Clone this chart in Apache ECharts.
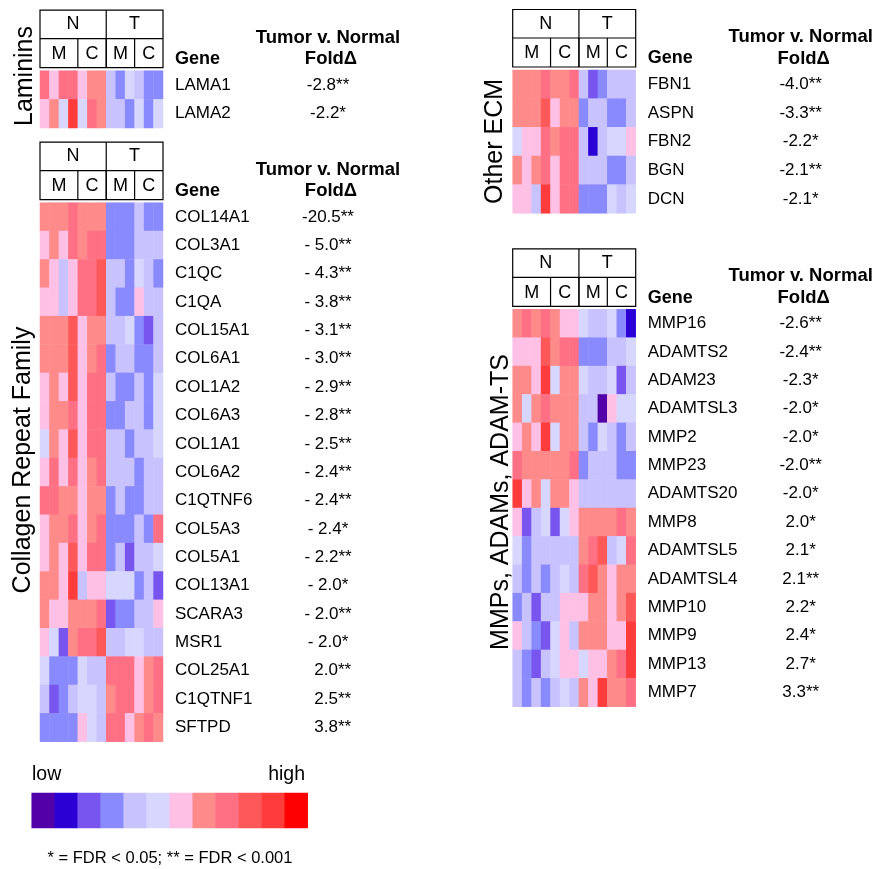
<!DOCTYPE html>
<html><head><meta charset="utf-8">
<script src="https://cdn.jsdelivr.net/npm/echarts@6/dist/echarts.min.js"></script>
<style>html,body{margin:0;padding:0;background:#fff}#c{width:876px;height:869px}</style>
</head><body><div id="c"></div>
<script>
// ---- colour scale (12 levels, low -> high) ----
const colorLevels = ['#5200A8','#2A00D4','#7755EE','#8A8AFF','#C8C2FF','#D6D6FF','#FFC0E6','#FF8A8A','#FF7085','#FF5858','#FF3C3C','#FF0000'];
const legendLevels = [0,1,2,3,4,5,6,7,8,9,10,11];

// ---- sample columns: N-M (4), N-C (3), T-M (3), T-C (3) ----
const columns = ['NM1','NM2','NM3','NM4','NC1','NC2','NC3','TM1','TM2','TM3','TC1','TC2','TC3'];
const topHeader = ['N','T'];
const topSpans = [7,6];
const subHeader = ['M','C','M','C'];
const subSpans = [4,3,3,3];

// ---- Laminins ----
const lamininGenes = ['LAMA1','LAMA2'];
const lamininFold = ['-2.8**','-2.2*'];
const lamininLevels = [
  [8,6,8,8,6,7,7,4,3,5,4,3,3],
  [6,7,5,10,5,8,7,4,4,3,5,3,5]
];

// ---- Collagen Repeat Family ----
const collagenGenes = ['COL14A1','COL3A1','C1QC','C1QA','COL15A1','COL6A1','COL1A2','COL6A3','COL1A1','COL6A2','C1QTNF6','COL5A3','COL5A1','COL13A1','SCARA3','MSR1','COL25A1','C1QTNF1','SFTPD'];
const collagenFold = ['-20.5**','- 5.0**','- 4.3**','- 3.8**','- 3.1**','- 3.0**','- 2.9**','- 2.8**','- 2.5**','- 2.4**','- 2.4**','- 2.4*','- 2.2**','- 2.0*','- 2.0**','- 2.0*','  2.0**','  2.5**','  3.8**'];
const collagenLevels = [
  [7,7,7,8,7,7,7,3,3,3,4,3,3],
  [6,7,6,8,7,8,8,3,3,3,4,4,4],
  [7,6,4,6,8,8,9,4,4,3,5,4,3],
  [6,6,4,6,8,8,9,4,3,3,6,4,4],
  [7,7,7,9,6,7,7,4,4,5,3,2,4],
  [7,7,7,9,6,7,8,3,4,4,3,3,4],
  [6,7,6,9,6,8,8,4,3,3,4,3,5],
  [6,7,7,8,6,8,8,3,3,4,4,3,5],
  [5,7,6,9,6,8,8,4,4,3,4,4,5],
  [6,8,6,8,6,7,8,4,4,4,3,4,4],
  [8,8,7,7,6,7,7,3,4,3,3,4,4],
  [6,7,7,8,6,7,8,3,3,3,4,3,8],
  [6,7,6,9,6,8,8,3,4,2,4,4,5],
  [7,7,6,10,4,6,6,5,5,5,3,4,2],
  [7,6,6,7,7,7,8,2,3,3,4,4,6],
  [6,5,2,7,8,8,9,4,4,5,5,4,4],
  [5,3,3,3,5,4,4,8,8,8,6,7,8],
  [4,2,3,4,5,5,4,7,8,8,6,7,8],
  [3,3,3,3,6,5,4,8,8,6,7,8,7]
];

// ---- Other ECM ----
const ecmGenes = ['FBN1','ASPN','FBN2','BGN','DCN'];
const ecmFold = ['-4.0**','-3.3**','-2.2*','-2.1**','-2.1*'];
const ecmLevels = [
  [7,7,7,8,7,7,8,4,2,3,4,4,4],
  [7,7,7,9,6,7,7,3,4,4,3,3,4],
  [5,6,6,8,7,8,8,4,1,4,5,5,6],
  [7,6,7,8,6,8,8,4,4,4,3,3,4],
  [6,6,4,10,6,8,8,3,3,3,5,4,5]
];

// ---- MMPs, ADAMs, ADAM-TS ----
const mmpGenes = ['MMP16','ADAMTS2','ADAM23','ADAMTSL3','MMP2','MMP23','ADAMTS20','MMP8','ADAMTSL5','ADAMTSL4','MMP10','MMP9','MMP13','MMP7'];
const mmpFold = ['-2.6**','-2.4**','-2.3*','-2.0*','-2.0*','-2.0**','-2.0*','2.0*','2.1*','2.1**','2.2*','2.4*','2.7*','3.3**'];
const mmpLevels = [
  [7,8,7,8,7,6,6,5,4,4,5,3,1],
  [6,6,6,9,7,8,8,3,3,3,4,4,5],
  [7,7,6,10,5,7,7,5,4,4,5,2,4],
  [7,5,7,8,7,7,7,4,4,0,6,5,5],
  [6,7,6,10,5,7,7,4,3,5,4,3,4],
  [8,7,7,7,7,7,8,3,4,4,4,3,3],
  [10,6,7,5,7,7,6,4,4,4,4,4,4],
  [6,2,4,5,2,5,6,7,7,7,7,8,7],
  [5,3,4,4,4,4,4,7,8,9,4,5,8],
  [4,3,4,3,4,5,4,8,9,7,6,7,7],
  [3,4,2,4,4,6,6,6,7,7,6,7,9],
  [6,4,3,2,5,6,4,7,7,7,6,6,10],
  [4,3,2,4,5,6,6,5,6,6,7,8,10],
  [4,3,4,3,4,5,4,7,6,10,7,7,8]
];

// ---------------- layout ----------------
const FONT = 'Liberation Sans';
const panels = [
  {name:'Laminins', genes:lamininGenes, fold:lamininFold, levels:lamininLevels, left:40, top:70.7, width:123, height:57.3, labelX:25, labelY:76},
  {name:'Collagen Repeat Family', genes:collagenGenes, fold:collagenFold, levels:collagenLevels, left:40, top:202.7, width:123, height:539, labelX:23, labelY:460},
  {name:'Other ECM', genes:ecmGenes, fold:ecmFold, levels:ecmLevels, left:512.7, top:70, width:123, height:143.3, labelX:495, labelY:141.5},
  {name:'MMPs, ADAMs, ADAM-TS', genes:mmpGenes, fold:mmpFold, levels:mmpLevels, left:512.7, top:309.3, width:123, height:397.4, labelX:501, labelY:502}
];
const legendBox = {left:31.7, top:793, width:276, height:35};

const grids = [], xAxes = [], yAxes = [], series = [], graphics = [];
panels.forEach((p, i) => {
  grids.push({left:p.left, top:p.top, width:p.width, height:p.height});
  xAxes.push({type:'category', gridIndex:i, data:columns, show:false});
  yAxes.push({type:'category', gridIndex:i, data:p.genes, inverse:true, position:'right', offset:0,
    axisLine:{show:false}, axisTick:{show:false}, splitLine:{show:false},
    axisLabel:{margin:12, align:'left', fontFamily:FONT, fontSize:17, color:'#000', padding:[4,0,0,0]}});
  yAxes.push({type:'category', gridIndex:i, data:p.fold, inverse:true, position:'right', offset:0,
    axisLine:{show:false}, axisTick:{show:false}, splitLine:{show:false},
    axisLabel:{margin:165, align:'center', fontFamily:FONT, fontSize:17, color:'#000', padding:[4,0,0,0]}});
  const data = [];
  p.levels.forEach((row, r) => row.forEach((v, c) => data.push([c, r, v])));
  series.push({type:'heatmap', xAxisIndex:i, yAxisIndex:i*2, data:data, itemStyle:{borderWidth:0}, emphasis:{disabled:true}, animation:false});

  // header box
  const L = p.left, R = p.left + p.width, cw = p.width / columns.length;
  const hTop = p.top - 60.5, hMid = p.top - 32, hBot = p.top - 3;
  const st = {stroke:'#000', lineWidth:1.2, fill:null};
  graphics.push({type:'rect', shape:{x:L, y:hTop, width:p.width, height:hBot - hTop}, style:st, silent:true});
  graphics.push({type:'line', shape:{x1:L, y1:hMid, x2:R, y2:hMid}, style:st, silent:true});
  let acc = 0;
  topSpans.forEach((s, k) => {
    const x0 = L + acc * cw, x1 = L + (acc + s) * cw;
    graphics.push({type:'text', x:(x0 + x1) / 2, y:(hTop + hMid) / 2, style:{text:topHeader[k], font:'18px "' + FONT + '"', fill:'#000', align:'center', verticalAlign:'middle'}, silent:true});
    if (k > 0) graphics.push({type:'line', shape:{x1:x0, y1:hTop, x2:x0, y2:hBot}, style:st, silent:true});
    acc += s;
  });
  acc = 0;
  subSpans.forEach((s, k) => {
    const x0 = L + acc * cw, x1 = L + (acc + s) * cw;
    graphics.push({type:'text', x:(x0 + x1) / 2, y:(hMid + hBot) / 2 + 1, style:{text:subHeader[k], font:'18px "' + FONT + '"', fill:'#000', align:'center', verticalAlign:'middle'}, silent:true});
    if (k > 0) graphics.push({type:'line', shape:{x1:x0, y1:hMid, x2:x0, y2:hBot}, style:st, silent:true});
    acc += s;
  });
  // column headers
  graphics.push({type:'text', x:R + 12, y:p.top - 11.5, style:{text:'Gene', font:'bold 18px "' + FONT + '"', fill:'#000', align:'left', verticalAlign:'middle'}, silent:true});
  graphics.push({type:'text', x:R + 165, y:p.top - 33, style:{text:'Tumor v. Normal', font:'bold 18.5px "' + FONT + '"', fill:'#000', align:'center', verticalAlign:'middle'}, silent:true});
  graphics.push({type:'text', x:R + 168, y:p.top - 11.5, style:{text:'Fold\u0394', font:'bold 18.5px "' + FONT + '"', fill:'#000', align:'center', verticalAlign:'middle'}, silent:true});
  // group label
  graphics.push({type:'text', x:p.labelX, y:p.labelY, rotation:Math.PI / 2, style:{text:p.name, font:'25px "' + FONT + '"', fill:'#000', align:'center', verticalAlign:'middle'}, silent:true});
});

// legend colour bar grid
const li = panels.length;
grids.push({left:legendBox.left, top:legendBox.top, width:legendBox.width, height:legendBox.height});
xAxes.push({type:'category', gridIndex:li, data:legendLevels.map(String), show:false});
yAxes.push({type:'category', gridIndex:li, data:['scale'], show:false});
series.push({type:'heatmap', xAxisIndex:li, yAxisIndex:yAxes.length - 1, data:legendLevels.map((v, k) => [k, 0, v]), itemStyle:{borderWidth:0}, emphasis:{disabled:true}, animation:false});

graphics.push({type:'text', x:32, y:775, style:{text:'low', font:'19.5px "' + FONT + '"', fill:'#000', align:'left', verticalAlign:'middle'}, silent:true});
graphics.push({type:'text', x:305, y:775, style:{text:'high', font:'19.5px "' + FONT + '"', fill:'#000', align:'right', verticalAlign:'middle'}, silent:true});
graphics.push({type:'text', x:170, y:858, style:{text:'* = FDR < 0.05; ** = FDR < 0.001', font:'16.5px "' + FONT + '"', fill:'#000', align:'center', verticalAlign:'middle'}, silent:true});

const chart = echarts.init(document.getElementById('c'), null, {renderer:'canvas'});
chart.setOption({
  animation:false,
  backgroundColor:'#fff',
  textStyle:{fontFamily:FONT},
  grid:grids, xAxis:xAxes, yAxis:yAxes,
  visualMap:{type:'piecewise', show:false, dimension:2, seriesIndex:series.map((s, k) => k),
    pieces:colorLevels.map((c, k) => ({value:k, color:c}))},
  series:series,
  graphic:graphics
});
</script></body></html>
